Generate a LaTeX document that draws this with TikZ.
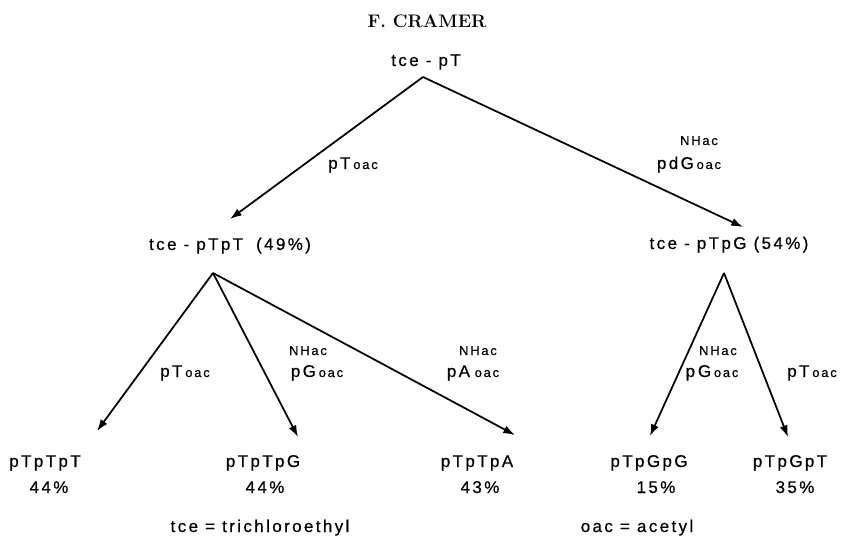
\documentclass[tikz,border=0pt]{standalone}
\usepackage{fontspec}
\usetikzlibrary{arrows.meta}
\newfontfamily\lettfont[LetterSpace=14,FakeBold=0.6]{Liberation Sans}
\newcommand{\lett}{\lettfont\fontsize{14.5}{16}\selectfont}
\newcommand{\sml}{\lettfont\fontsize{11}{12}\selectfont}
\begin{document}
\begin{tikzpicture}[x=0.03cm,y=-0.03cm]
        \tikzstyle{compound}=[font=\lett,inner sep=0pt,text height=10pt,text depth=3pt,anchor=base]
        \tikzstyle{reagent}=[font=\lett,inner sep=0pt,anchor=base]
        \tikzstyle{group}=[font=\sml,inner sep=0pt,anchor=base]
        \tikzstyle{edge}=[draw,line width=1.5pt,-{Latex[length=10pt,width=7pt]}]
        \useasboundingbox (0,0) rectangle (841,542);
        \node [inner sep=0pt,font=\fontsize{15.5}{18}\selectfont\bfseries] (author) at (427,21) {F. CRAMER};
        % start and first step
        \node [compound] (tcept) at (426,66) {tce - pT};
        \coordinate (a0) at (423,77);
        \node [compound] (tceptpt) at (230,250) {tce - pTpT\hspace{5pt} (49\%)};
        \node [compound] (tceptpg) at (729,249) {tce - pTpG (54\%)};
        \path[edge] (a0) -- ([shift={(0,-19)}]tceptpt.north);
        \path[edge] (a0) -- ([shift={(14,-10)}]tceptpg.north);
        \node [reagent] (r1) at (353,169) {pT\,{\sml oac}};
        \node [group] (n2) at (699,145) {NHac};
        \node [reagent] (r2) at (689,169) {pdG\,{\sml oac}};
        % second step
        \coordinate (a1) at (213,273);
        \coordinate (a2) at (724,273);
        \node [compound] (ptptpt) at (45,467) {pTpTpT};
        \node [compound] (ptptpg) at (263,467) {pTpTpG};
        \node [compound] (ptptpa) at (477,467) {pTpTpA};
        \node [compound] (ptpgpg) at (649,467) {pTpGpG};
        \node [compound] (ptpgpt) at (790,467) {pTpGpT};
        \node [compound] (y1) at (49,493) {44\%};
        \node [compound] (y2) at (265,493) {44\%};
        \node [compound] (y3) at (480,493) {43\%};
        \node [compound] (y4) at (656,493) {15\%};
        \node [compound] (y5) at (795,493) {35\%};
        \path[edge] (a1) -- ([shift={(52,-24)}]ptptpt.north);
        \path[edge] (a1) -- ([shift={(35,-18)}]ptptpg.north);
        \path[edge] (a1) -- ([shift={(38,-20)}]ptptpa.north);
        \path[edge] (a2) -- ([shift={(1,-19)}]ptpgpg.north);
        \path[edge] (a2) -- ([shift={(-2,-18)}]ptpgpt.north);
        \node [reagent] (r3) at (185,377) {pT\,{\sml oac}};
        \node [group] (n4) at (308,355) {NHac};
        \node [reagent] (r4) at (317,377) {pG\,{\sml oac}};
        \node [group] (n5) at (478,355) {NHac};
        \node [reagent] (r5) at (473,377) {pA\hspace{4pt}{\sml oac}};
        \node [group] (n6) at (718,355) {NHac};
        \node [reagent] (r6) at (712,377) {p\,G\,{\sml oac}};
        \node [reagent] (r7) at (812,377) {pT\,{\sml oac}};
        % abbreviations
        \node [compound] (tce) at (260,532) {tce = trichloroethyl};
        \node [compound] (oac) at (637,532) {oac = acetyl};
\end{tikzpicture}
\end{document}
